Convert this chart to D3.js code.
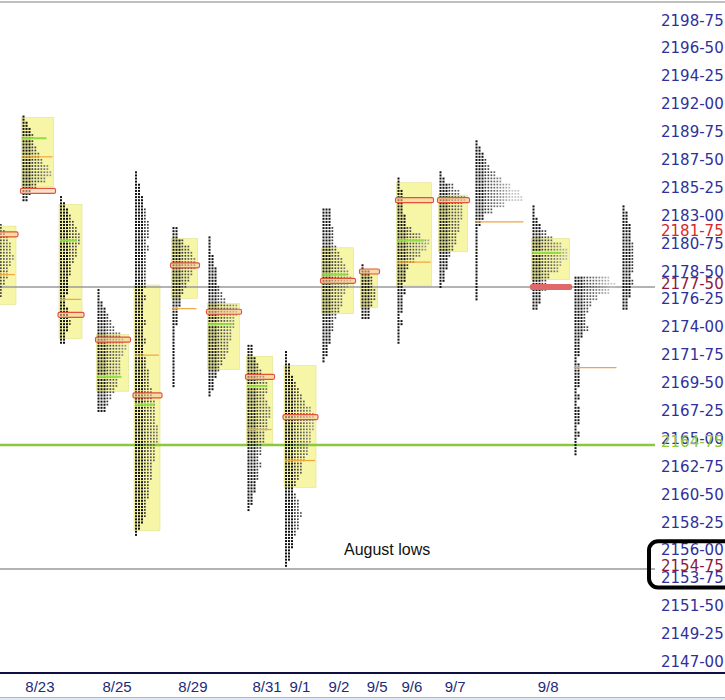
<!DOCTYPE html>
<html><head><meta charset="utf-8">
<script src="https://cdn.jsdelivr.net/npm/d3@7"></script>
<style>body{margin:0;background:#fff;}svg{display:block;}</style>
</head><body>
<svg id="chart" width="725" height="700"></svg>
<script>
// ---- data (prices, TPO counts per half-point band from the high downward) ----
const profileStart = [-4, 7.5, 20, 32.5, 45, 57.5, 69.5, 82.5, 95, 107.5, 120.5, 132.5, 146.5, 158.5, 177.5, 191.5, 207.5];
const profileHigh  = [2182.5, 2191.25, 2184.75, 2177.25, 2186.75, 2182.25, 2181.5, 2172.75, 2172.25, 2183.75, 2179.25, 2186.25, 2186.75, 2189.25, 2184, 2178.25, 2184];
const profileVAH   = [2182.25, 2191, 2184, 2173.5, 2177.5, 2181.25, 2176, 2171.75, 2171, 2180.5, 2178.75, 2185.75, 2184.75, null, 2181.25, null, null];
const profileVAL   = [2176.25, 2185.75, 2173.5, 2169.25, 2158, 2176.75, 2171, 2165, 2161.5, 2175.5, 2176, 2177.75, 2180.5, null, 2178.25, null, null];
const profilePOC   = [2181.75, 2185.25, 2175.25, 2173.25, 2168.75, 2179.25, 2175.5, 2170.25, 2167, 2178, 2178.75, 2184.5, 2184.5, null, 2177.5, null, null];
const profileMid   = [2178.5, 2188, 2176.5, null, 2172, 2175.75, null, 2166, 2163.5, null, null, 2179.5, null, 2182.75, null, 2171, null];
const profileGreen = [null, 2189.5, 2181.25, 2170.25, 2168, null, 2174.5, 2169.5, null, 2178.5, null, 2181.25, null, null, 2180.25, null, null];
const profileCounts = [
  [5,6,7,8,8,9,8,7,7,6,5,5,4,3,2],
  [1,2,3,4,4,5,6,7,9,10,8,5,3,2],
  [1,2,3,4,5,6,7,7,6,6,5,4,4,3,3,3,2,2,3,3,4,3,2,2],
  [1,1,2,3,4,5,6,8,9,10,9,8,8,8,7,7,6,5,4,3],
  [1,1,2,2,3,3,4,4,5,5, 5,4,5,4,4,4,4,4,4,3, 4,3,3,3,4,3,3,4,3,3, 4,4,5,5,5,6,6,7,7,7, 7,8,8,8,7,7,7,6,6,6, 5,5,5,4,4,4,3,2,1],
  [2,2,4,6,7,8,8,7,6,5,4,3,3,2,2,2,1,1,1,1,1,1,1,1,1,1],
  [1,1,1,2,2,3,3,3,4,5,6,10,10,9,9,8,8,7,7,6,5,4,3,2,2,1],
  [2,2,3,4,5,6,7,7,6,7,8,8,7,7,6,6,5,5,4,5,4,4,3,3,2,2,1],
  [1,1,2,2,3,4,5,6,7,9,10,10,10,9,9,8,8,7,6,6,5,4,3,4,5,5,6,5,5,4,3,3,2,2,1],
  [3,3,3,4,4,4,5,6,7,8,9,10,9,8,7,7,6,5,4,4,3,3,2,2,1],
  [1,3,4,4,5,5,4,3,3],
  [1,1,2,2,2,2,3,3,5,8,11,10,8,6,4,3,3,2,3,2,2,2,1,2,1,1,1],
  [1,2,5,7,9,8,8,8,7,7,6,6,5,4,3,3,2,2,1],
  [1,2,3,4,5,7,9,12,15,16,10,6,3,2,1,1,1,1,1,1,1,1,1,1,1,1],
  [1,1,2,3,5,7,10,12,12,10,9,6,5,5,3,3,2],
  [12,14,12,8,6,5,4,4,5,3,2,2,2,1,2,2,2,2,1,2,1,2,2,2,1,2,1,1,1],
  [1,2,2,3,3,3,4,4,4,4,4,3,4,3,3,2,2]
];
const filledPOC = [false,false,false,false,false,false,false,false,false,false,false,false,false,false,true,false,false];

const priceTickStart = 2147, priceTickStep = 2.25, priceTickCount = 24;
const refLevels = [2177.5, 2164.75, 2154.75];
const refKinds = ["gray", "green", "gray"];
const specialLabels = [2181.75, 2177.5, 2164.75, 2154.75];
const specialColors = ["#d42a2a", "#8a1a40", "#8cc63f", "#8a1a40"];
const dateLabels = ["8/23","8/25","8/29","8/31","9/1","9/2","9/5","9/6","9/7","9/8"];
const datePos = [13.3, 39, 64.3, 89, 100, 113, 125.7, 137.3, 151.7, 182.7];
const noteText = "August lows";

// ---- scales ----
const svg = d3.select("#chart");
const y = d3.scaleLinear().domain([2147, 2198.75]).range([665, 23.6]);
const x = d3.scaleLinear().domain([0, 218]).range([0, 654]);
const colW = x(1) - x(0);
const fmt = p => Math.floor(p + 1e-9) + "-" + String(Math.round((p - Math.floor(p + 1e-9)) * 100)).padStart(2, "0");

// top border
svg.append("line").attr("x1",0).attr("x2",725).attr("y1",2).attr("y2",2).attr("stroke","#aaa").attr("stroke-width",1.5);

const profiles = profileStart.map((s,i)=>{
  const counts = profileCounts[i];
  const high = profileHigh[i];
  const vah = profileVAH[i], val = profileVAL[i];
  let maxVA = 0, maxAll = d3.max(counts);
  counts.forEach((n,b)=>{ const p = high - b*0.5; if (vah!=null && p<=vah+0.01 && p>=val-0.01) maxVA=Math.max(maxVA,n); });
  return {i, s, high, vah, val, poc: profilePOC[i], mid: profileMid[i], green: profileGreen[i], counts, maxVA: maxVA||maxAll, maxAll, filled: filledPOC[i]};
});

// value-area boxes
const gBox = svg.append("g");
profiles.filter(p=>p.vah!=null).forEach(p=>{
  gBox.append("rect")
    .attr("x", x(p.s)-1).attr("width", p.maxVA*colW+2)
    .attr("y", y(p.vah)-2).attr("height", y(p.val)-y(p.vah)+4)
    .attr("fill","#f6f6a6").attr("stroke","#e2e28c").attr("stroke-width",0.6);
});

// reference lines
refLevels.forEach((v,k)=>{
  svg.append("line").attr("x1",0).attr("x2",655).attr("y1",y(v)).attr("y2",y(v))
    .attr("stroke", refKinds[k]==="green" ? "#8cc63f" : "#9a9a9a")
    .attr("stroke-width", refKinds[k]==="green" ? 2.5 : 1.6);
});

// TPO dots
const colColor = c => c < 3 ? "#111" : d3.interpolateRgb("#333", "#c4c4c4")(Math.min(1,(c-3)/9));
const gDots = svg.append("g");
profiles.forEach(p=>{
  p.counts.forEach((n,b)=>{
    for (let r=0;r<2;r++){
      const price = p.high - b*0.5 - r*0.25;
      for (let c=0;c<n;c++){
        const small = c >= 3;
        gDots.append("rect").attr("x", x(p.s+c)).attr("y", y(price)-1)
          .attr("width", small ? 1.7 : 2).attr("height", small ? 1.7 : 2).attr("fill", colColor(c));
      }
    }
  });
});

// green highlight rows
profiles.filter(p=>p.green!=null).forEach(p=>{
  svg.append("line").attr("x1", x(p.s)).attr("x2", x(p.s)+p.maxVA*colW*0.8)
    .attr("y1", y(p.green)).attr("y2", y(p.green)).attr("stroke","#8fdc4a").attr("stroke-width",2);
});

// mid lines
profiles.filter(p=>p.mid!=null).forEach(p=>{
  const w = (p.vah!=null ? p.maxVA : p.maxAll)*colW;
  svg.append("line").attr("x1", x(p.s)).attr("x2", x(p.s)+w)
    .attr("y1", y(p.mid)).attr("y2", y(p.mid)).attr("stroke","#f0a540").attr("stroke-width",1.2);
});

// POC rectangles
profiles.filter(p=>p.poc!=null).forEach(p=>{
  svg.append("rect").attr("x", x(p.s)-2).attr("width", p.maxVA*colW+5)
    .attr("y", y(p.poc)-2.5).attr("height",5).attr("rx",1.5)
    .attr("fill", p.filled ? "#e06868" : "rgba(250,200,160,0.55)")
    .attr("stroke", p.filled ? "#e06868" : "#e0523a").attr("stroke-width",1.2);
});

// price labels on right
const ticks = d3.range(priceTickCount).map(k=>priceTickStart + k*priceTickStep);
svg.append("g").selectAll("text").data(ticks).join("text")
  .attr("x",661).attr("y",d=>y(d)-3).attr("dominant-baseline","central")
  .attr("font-family","DejaVu Sans, Verdana, sans-serif").attr("font-size",15)
  .attr("fill","#30309a").text(fmt);
svg.append("g").selectAll("text").data(specialLabels).join("text")
  .attr("x",661).attr("y",d=>y(d)-3).attr("dominant-baseline","central")
  .attr("font-family","DejaVu Sans, Verdana, sans-serif").attr("font-size",15)
  .attr("fill",(d,k)=>specialColors[k]).text(fmt);

// annotation
svg.append("text").attr("x",344).attr("y",y(2154.75)-14).attr("font-family","Liberation Sans, Arial, sans-serif")
  .attr("font-size",16).attr("fill","#111").text(noteText);
svg.append("rect").attr("x",649).attr("y",y(2156.75)-3).attr("width",90).attr("height",y(2153.25)-y(2156.75)+3)
  .attr("rx",9).attr("fill","none").attr("stroke","#000").attr("stroke-width",4);

// bottom axis
svg.append("line").attr("x1",0).attr("x2",725).attr("y1",673).attr("y2",673).attr("stroke","#0e0e40").attr("stroke-width",2);
svg.append("g").selectAll("text").data(dateLabels).join("text")
  .attr("x",(d,k)=>x(datePos[k])).attr("y",686).attr("text-anchor","middle").attr("dominant-baseline","central")
  .attr("font-family","Liberation Sans Narrow, Arial Narrow, Liberation Sans, sans-serif").attr("font-size",15)
  .attr("fill","#1e2a78").text(d=>d);
svg.append("line").attr("x1",0).attr("x2",725).attr("y1",697.5).attr("y2",697.5).attr("stroke","#a9b9cc").attr("stroke-width",1);
svg.append("rect").attr("x",0).attr("y",698).attr("width",725).attr("height",2).attr("fill","#dde9f6");
</script>
</body></html>
